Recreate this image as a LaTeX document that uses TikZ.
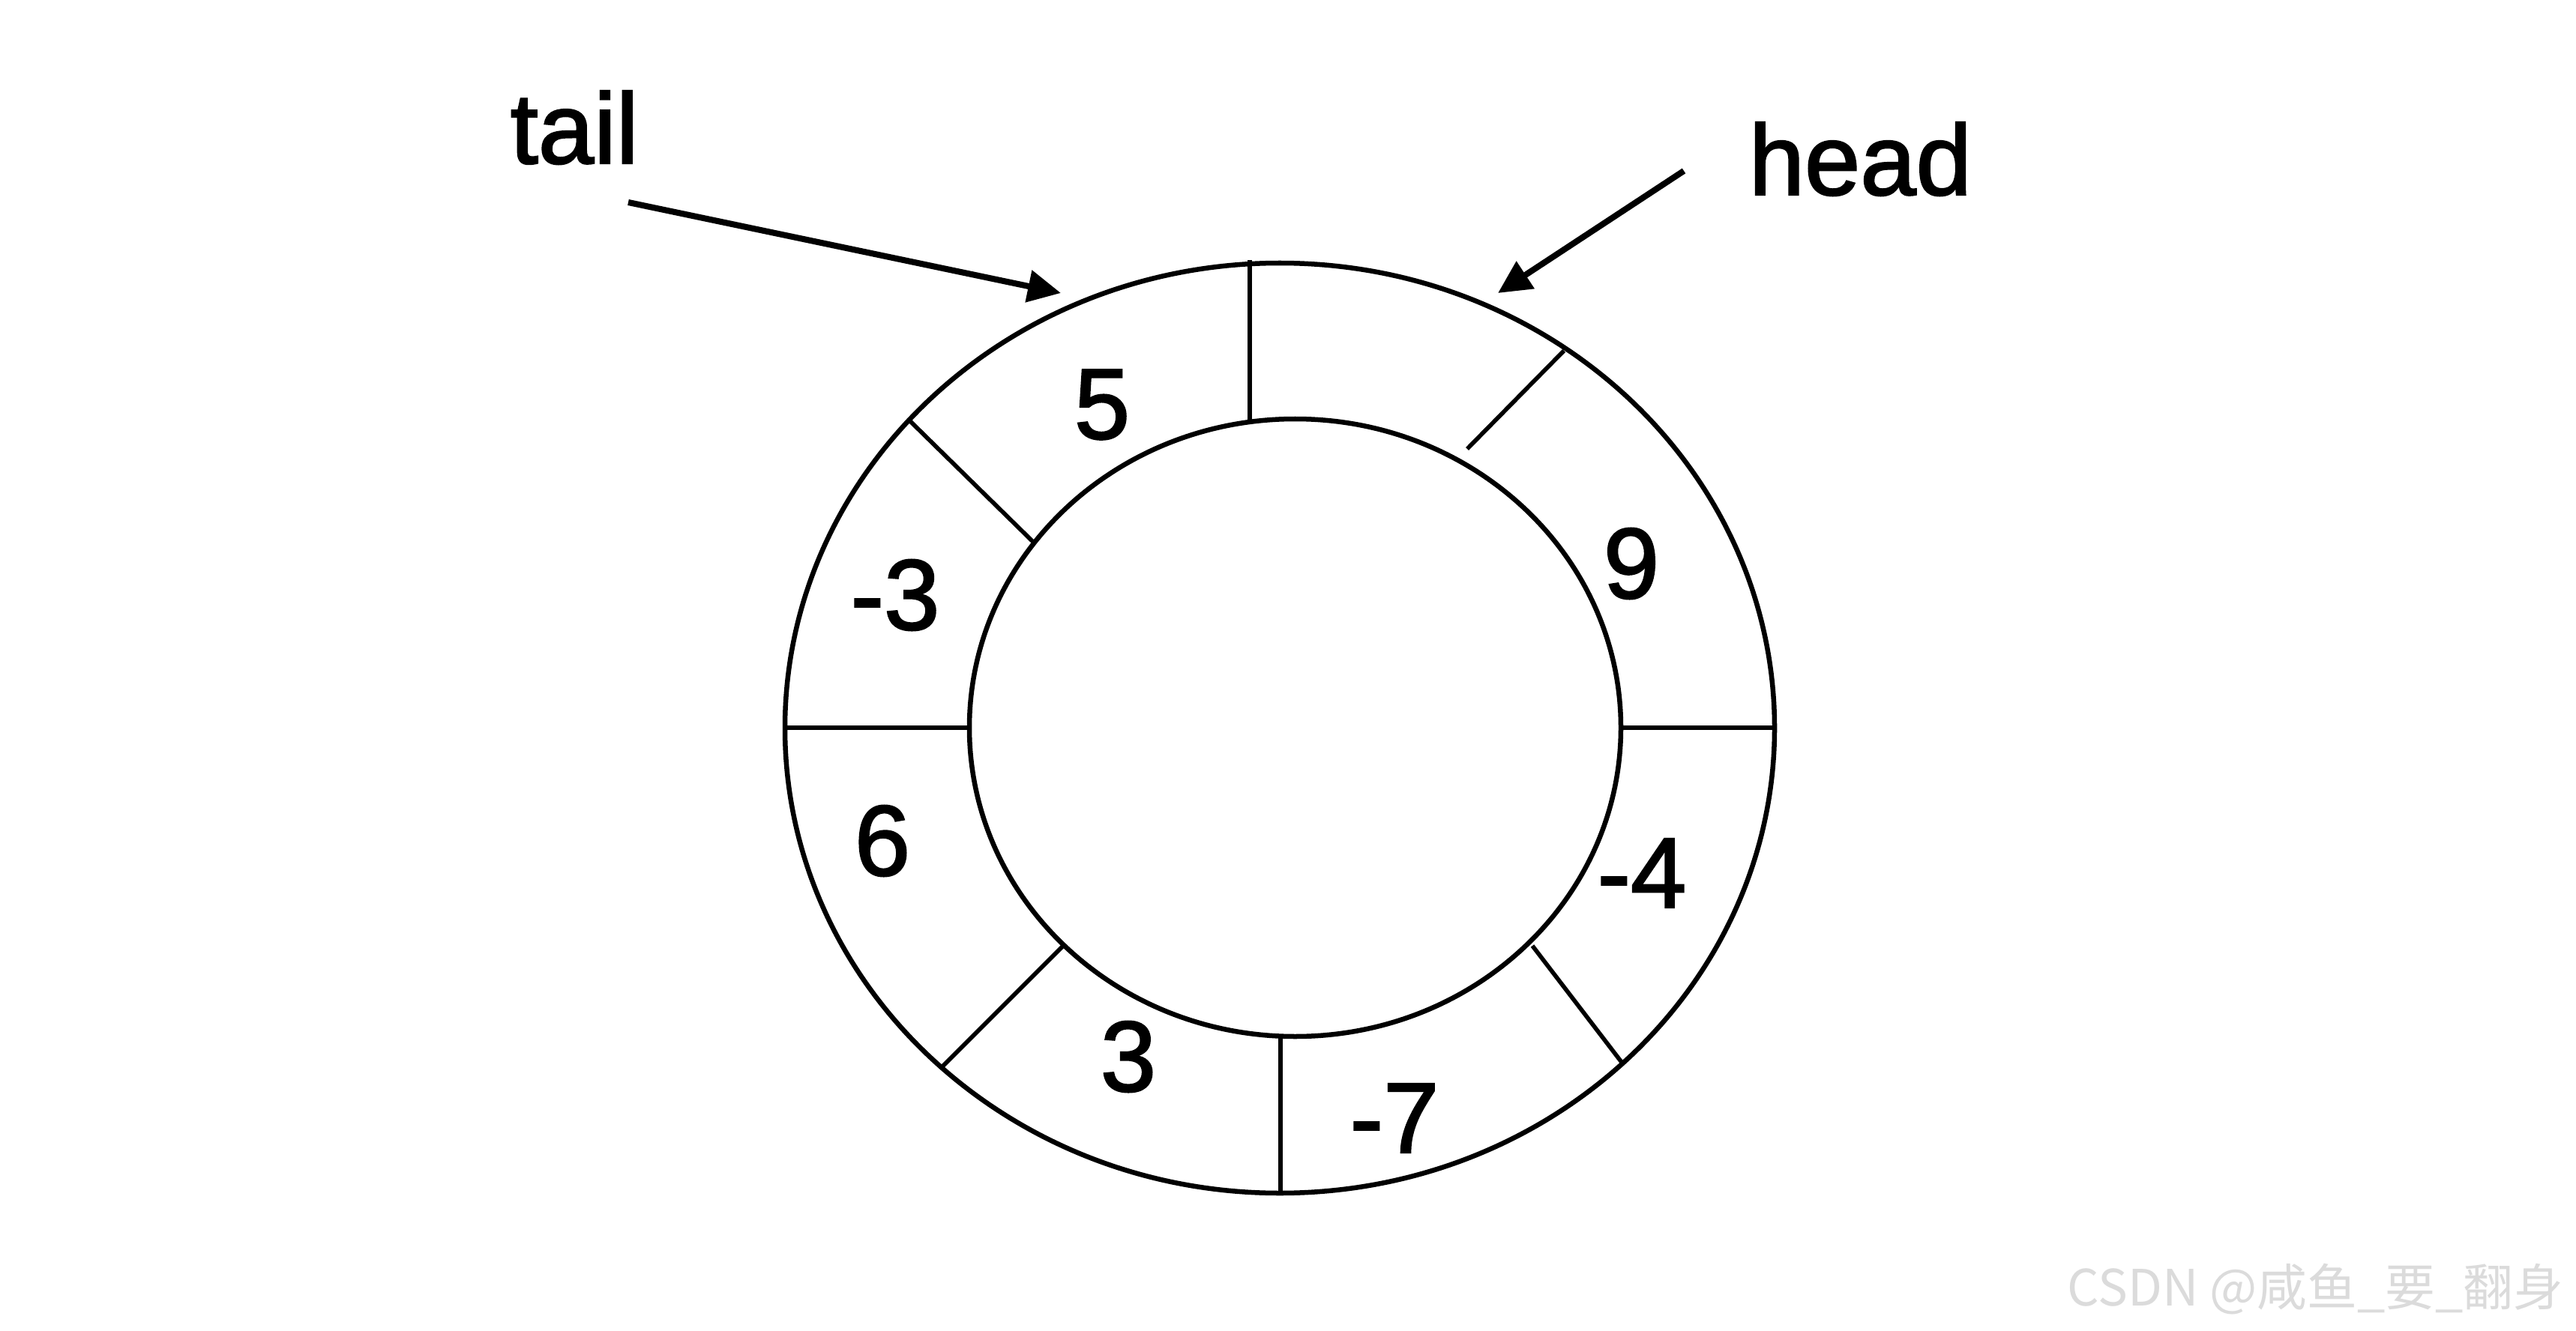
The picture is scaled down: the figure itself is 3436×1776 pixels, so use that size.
\documentclass[tikz,border=0pt]{standalone}
\usepackage{fontspec}
\setmainfont{Liberation Sans}
\newfontfamily\labfont{Liberation Sans}[FakeBold=1.8]
\newfontfamily\cjkwm{Noto Sans CJK SC}
\usetikzlibrary{arrows.meta}
\tikzset{
  ring/.style={line width=1.85pt, black},
  divider/.style={line width=1.6pt, black},
  val/.style={inner sep=0pt, font=\labfont\fontsize{38}{40}\selectfont},
  ptr/.style={inner sep=0pt, font=\labfont\fontsize{38}{40}\selectfont, anchor=base west},
  ptrarrow/.style={line width=2.3pt, -{Triangle[length=0.44cm,width=0.42cm]}},
}
\begin{document}
\begin{tikzpicture}[x=0.01cm,y=-0.01cm]
\useasboundingbox[fill=white] (0,0) rectangle (3436,1776);
% rings
\draw[ring] (1707,971.5) ellipse [x radius=660, y radius=620.5];
\draw[ring] (1727.5,971) ellipse [x radius=434.5, y radius=412];
% dividers
\draw[divider] (1667,347) -- (1667,561);
\draw[divider] (1708,1383) -- (1708,1592);
\draw[divider] (1047,971) -- (1293,971);
\draw[divider] (2162,971) -- (2367,971);
\draw[divider] (1213,561) -- (1378,723);
\draw[divider] (2086,468) -- (1957,599);
\draw[divider] (2044,1262) -- (2165,1420);
\draw[divider] (1418,1262) -- (1257,1423);
% values
\node[val] (v5) at (1470,540) {5};
\node[val] (v9) at (2176,752) {9};
\node[val] (vm3) at (1194,794) {-3};
\node[val] (v6) at (1177,1122) {6};
\node[val] (vm4) at (2190,1165) {-4};
\node[val] (v3) at (1505,1410) {3};
\node[val] (vm7) at (1860,1492) {-7};
% pointers
\node[ptr] (tail) at (680,218) {tail};
\node[ptr] (head) at (2332,260) {head};
\coordinate (tailstart) at (838,270);
\coordinate (tailtip) at (1415,391);
\coordinate (headstart) at (2246,228);
\coordinate (headtip) at (1998,391);
\draw[ptrarrow] (tailstart) -- (tailtip);
\draw[ptrarrow] (headstart) -- (headtip);
% watermark
\node[inner sep=0pt, anchor=base east, text=black!14, font=\cjkwm\fontsize{19}{20}\selectfont] (wm) at (3420,1742) {CSDN @咸鱼\_要\_翻身};
\end{tikzpicture}
\end{document}
